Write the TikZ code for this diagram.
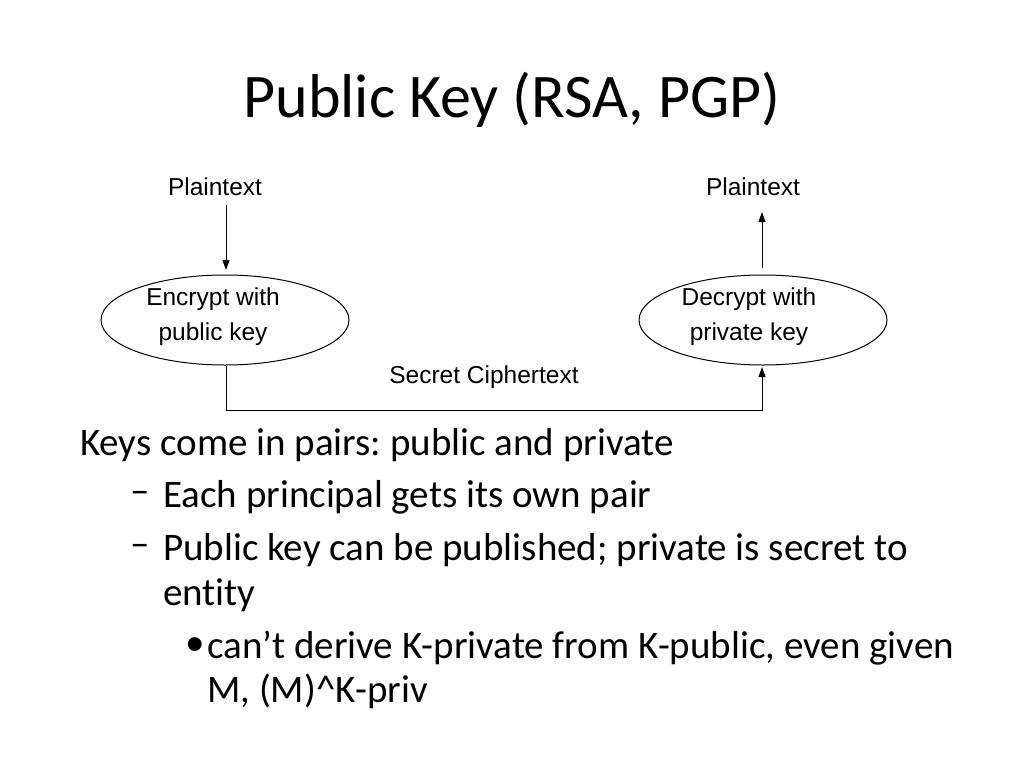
\documentclass[tikz,border=0pt]{standalone}
\usepackage{fontspec}
\setmainfont{Carlito}[Ligatures={NoCommon}]
\newfontfamily\arial{Liberation Sans}
\usetikzlibrary{shapes.geometric,arrows.meta}
\frenchspacing
\begin{document}
\begin{tikzpicture}[x=1pt,y=-1pt,
  lbl/.style={font=\arial\fontsize{24.5}{29}\selectfont},
  body/.style={anchor=west,font=\fontsize{39}{44}\selectfont,inner sep=0pt},
  proc/.style={draw,ellipse,line width=1pt,minimum width=248pt,minimum height=90pt,align=center,font=\arial\fontsize{24}{36}\selectfont},
  arr/.style={-{Triangle[length=10pt,width=7pt]},line width=1pt}]
\useasboundingbox (0,0) rectangle (1024,768);
\node (title) at (512,100) {\fontsize{62}{70}\selectfont Public Key (RSA, PGP)};
\node[lbl] (p1) at (215,187) {Plaintext};
\node[lbl] (p2) at (753,187) {Plaintext};
\node[proc] (enc) at (225,320) {};
\node[proc] (dec) at (763,320) {};
\node[lbl,align=center] (t1) at (213,317) {Encrypt with\\[6pt]public key};
\node[lbl,align=center] (t2) at (749,317) {Decrypt with\\[6pt]private key};
\node[lbl] (sc) at (484,377) {Secret Ciphertext};
\coordinate (c1) at (226,410);
\coordinate (c2) at (762,410);
\draw[arr] (226,205) -- (226,270);
\draw[arr] (762,268) -- (762,212);
\draw[arr] (226,366) -- (c1) -- (c2) -- (762,367);
\node[body] (b1) at (80,445) {Keys come in pairs: public and private};
\node[body] (d1) at (130,497) {–};
\node[body] (b2) at (163,497) {Each principal gets its own pair};
\node[body] (d2) at (130,550) {–};
\node[body] (b3) at (163,550) {Public key can be published; private is secret to};
\node[body] (b4) at (163,595) {entity};
\node[body] (d3) at (185,647) {•};
\node[body] (b5) at (207,648) {can’t derive K-private from K-public, even given};
\node[body] (b6) at (207,691) {M, (M)\^{}K-priv};
\end{tikzpicture}
\end{document}
